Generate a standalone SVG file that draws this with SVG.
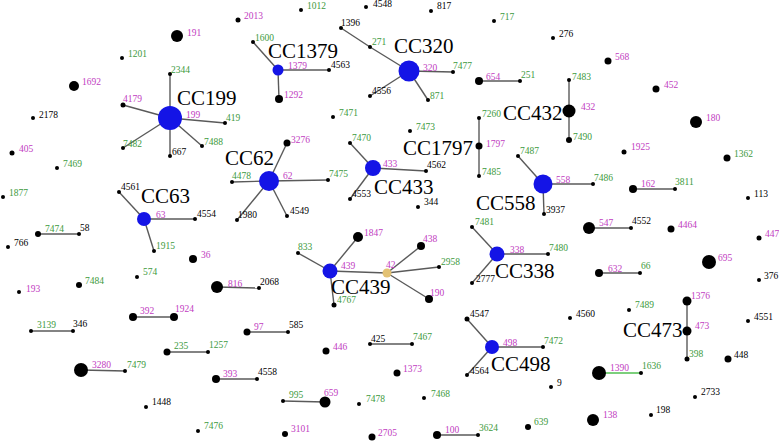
<svg xmlns="http://www.w3.org/2000/svg" width="779" height="442" viewBox="0 0 779 442">
<style>
text{font-family:"Liberation Serif","Times New Roman",serif;font-size:9.5px}
.cc{font-size:21px;fill:#000}
.m{fill:#c13cc1}.g{fill:#3d9a3d}.k{fill:#000}
.d{fill:#000}.b{fill:#1414e6}.y{fill:#e3c274}
.e line{stroke:#5a5a5a;stroke-width:1.4}
.e line.ge{stroke:#7ccf7c;stroke-width:2}
</style>
<rect width="779" height="442" fill="#fff"/>
<g class="e" id="connectors">
<line x1="170" y1="118" x2="170" y2="74"/><line x1="170" y1="118" x2="123" y2="105"/><line x1="170" y1="118" x2="225" y2="123"/><line x1="170" y1="118" x2="123" y2="148"/><line x1="170" y1="118" x2="170" y2="156"/><line x1="170" y1="118" x2="202" y2="146"/>
<line x1="278" y1="70" x2="253" y2="42"/><line x1="278" y1="70" x2="329" y2="70"/><line x1="278" y1="70" x2="279" y2="99"/>
<line x1="409" y1="71" x2="370" y2="47"/><line x1="341" y1="28" x2="370" y2="47"/><line x1="409" y1="71" x2="370" y2="96"/><line x1="409" y1="71" x2="453" y2="72"/><line x1="409" y1="71" x2="428" y2="100"/>
<line x1="479" y1="81" x2="520" y2="81"/>
<line x1="569" y1="80" x2="569" y2="140"/>
<line x1="479" y1="118" x2="479" y2="176"/>
<line x1="269" y1="181" x2="287" y2="143"/><line x1="269" y1="181" x2="232" y2="182"/><line x1="269" y1="181" x2="328" y2="180"/><line x1="269" y1="181" x2="237" y2="220"/><line x1="269" y1="181" x2="287" y2="216"/>
<line x1="373" y1="168" x2="350" y2="143"/><line x1="373" y1="168" x2="426" y2="171"/><line x1="373" y1="168" x2="350" y2="199"/>
<line x1="543" y1="184" x2="518" y2="156"/><line x1="543" y1="184" x2="593" y2="184"/><line x1="543" y1="184" x2="544" y2="214"/>
<line x1="144" y1="219" x2="119" y2="192"/><line x1="144" y1="219" x2="195" y2="219"/><line x1="144" y1="219" x2="154" y2="251"/>
<line x1="38" y1="234" x2="79" y2="234"/>
<line x1="633" y1="189" x2="675" y2="189"/>
<line x1="589" y1="228" x2="631" y2="228"/>
<line x1="599" y1="273" x2="640" y2="273"/>
<line x1="330" y1="271" x2="298" y2="253"/><line x1="330" y1="271" x2="358" y2="237"/><line x1="330" y1="271" x2="387" y2="273"/><line x1="330" y1="271" x2="334" y2="305"/>
<line x1="387" y1="273" x2="421" y2="246"/><line x1="387" y1="273" x2="439" y2="267"/><line x1="387" y1="273" x2="429" y2="299"/>
<line x1="497" y1="254" x2="472" y2="227"/><line x1="497" y1="254" x2="548" y2="254"/><line x1="497" y1="254" x2="472" y2="283"/>
<line x1="217" y1="287" x2="259" y2="288"/>
<line x1="133" y1="317" x2="174" y2="317"/>
<line x1="31" y1="331" x2="73" y2="331"/>
<line x1="167" y1="352" x2="208" y2="352"/>
<line x1="81" y1="370" x2="125" y2="371"/>
<line x1="247" y1="332" x2="288" y2="332"/>
<line x1="370" y1="344" x2="412" y2="344"/>
<line x1="216" y1="379" x2="257" y2="379"/>
<line x1="283" y1="401" x2="325" y2="402"/>
<line x1="437" y1="435" x2="478" y2="435"/>
<line x1="492" y1="347" x2="467" y2="319"/><line x1="492" y1="347" x2="543" y2="347"/><line x1="492" y1="347" x2="467" y2="375"/>
<line x1="687" y1="301" x2="687" y2="359"/>
<line class="ge" x1="599" y1="373" x2="641" y2="373"/>
</g>
<g id="nodes">
<g id="n191"><circle class="d" cx="177" cy="36" r="6"/><text class="m" x="187" y="36">191</text></g>
<g id="n1201"><circle class="d" cx="122" cy="58" r="2"/><text class="g" x="128" y="57">1201</text></g>
<g id="n1692"><circle class="d" cx="74" cy="86" r="5"/><text class="m" x="82" y="85">1692</text></g>
<g id="n2178"><circle class="d" cx="33" cy="118" r="2"/><text class="k" x="39" y="118">2178</text></g>
<g id="n4179"><circle class="d" cx="123" cy="105" r="2.5"/><text class="m" x="123" y="102">4179</text></g>
<g id="n2344"><circle class="d" cx="170" cy="74" r="2"/><text class="g" x="171" y="73">2344</text></g>
<g id="cc199"><circle class="b" cx="170" cy="118" r="12"/><text class="m" x="186" y="118">199</text><text class="cc" x="177" y="105">CC199</text></g>
<g id="n7482"><circle class="d" cx="123" cy="148" r="2"/><text class="g" x="123" y="147">7482</text></g>
<g id="n667"><circle class="d" cx="170" cy="156" r="2"/><text class="k" x="172" y="155">667</text></g>
<g id="n419"><circle class="d" cx="225" cy="123" r="2"/><text class="g" x="226" y="121">419</text></g>
<g id="n7488"><circle class="d" cx="202" cy="146" r="2"/><text class="g" x="204" y="145">7488</text></g>
<g id="n2013"><circle class="d" cx="238" cy="20" r="2.5"/><text class="m" x="244" y="19">2013</text></g>
<g id="n1012"><circle class="d" cx="301" cy="10" r="2"/><text class="g" x="307" y="9">1012</text></g>
<g id="n4548"><circle class="d" cx="366" cy="7" r="2"/><text class="k" x="373" y="7">4548</text></g>
<g id="n817"><circle class="d" cx="431" cy="11" r="2"/><text class="k" x="437" y="9">817</text></g>
<g id="n1396"><circle class="d" cx="341" cy="28" r="2"/><text class="k" x="341" y="26">1396</text></g>
<g id="n271"><circle class="d" cx="370" cy="47" r="2"/><text class="g" x="372" y="45">271</text></g>
<g id="cc1379"><circle class="b" cx="278" cy="70" r="5.5"/><text class="m" x="288" y="69">1379</text><text class="cc" x="268" y="58">CC1379</text></g>
<g id="n1600"><circle class="d" cx="253" cy="42" r="2"/><text class="g" x="255" y="41">1600</text></g>
<g id="n4563"><circle class="d" cx="329" cy="70" r="2"/><text class="k" x="331" y="68">4563</text></g>
<g id="n1292"><circle class="d" cx="279" cy="99" r="4"/><text class="m" x="284" y="98">1292</text></g>
<g id="n4556"><circle class="d" cx="370" cy="96" r="2"/><text class="k" x="372" y="94">4556</text></g>
<g id="n7471"><circle class="d" cx="333" cy="117" r="2"/><text class="g" x="339" y="116">7471</text></g>
<g id="cc320"><circle class="b" cx="409" cy="71" r="10.5"/><text class="m" x="423" y="71">320</text><text class="cc" x="394" y="53">CC320</text></g>
<g id="n7477"><circle class="d" cx="453" cy="72" r="2"/><text class="g" x="453" y="69">7477</text></g>
<g id="n871"><circle class="d" cx="428" cy="100" r="2"/><text class="g" x="430" y="99">871</text></g>
<g id="n717"><circle class="d" cx="494" cy="21" r="2"/><text class="g" x="500" y="20">717</text></g>
<g id="n276"><circle class="d" cx="553" cy="38" r="2"/><text class="k" x="559" y="37">276</text></g>
<g id="n654"><circle class="d" cx="479" cy="81" r="4"/><text class="m" x="486" y="80">654</text></g>
<g id="n251"><circle class="d" cx="520" cy="81" r="2"/><text class="g" x="521" y="78">251</text></g>
<g id="n7473"><circle class="d" cx="410" cy="131" r="2"/><text class="g" x="416" y="130">7473</text></g>
<g id="n7260"><circle class="d" cx="479" cy="118" r="2"/><text class="g" x="482" y="117">7260</text></g>
<g id="cc1797"><circle class="d" cx="479" cy="146" r="3.5"/><text class="m" x="486" y="147">1797</text><text class="cc" x="403" y="155">CC1797</text></g>
<g id="n7485"><circle class="d" cx="479" cy="176" r="2"/><text class="g" x="482" y="175">7485</text></g>
<g id="cc432"><circle class="d" cx="569" cy="111" r="6.5"/><text class="m" x="581" y="110">432</text><text class="cc" x="503" y="120">CC432</text></g>
<g id="n7483"><circle class="d" cx="569" cy="80" r="2"/><text class="g" x="572" y="80">7483</text></g>
<g id="n7490"><circle class="d" cx="569" cy="140" r="3"/><text class="g" x="573" y="140">7490</text></g>
<g id="n568"><circle class="d" cx="608" cy="61" r="3.5"/><text class="m" x="615" y="60">568</text></g>
<g id="n452"><circle class="d" cx="656" cy="89" r="3.5"/><text class="m" x="664" y="88">452</text></g>
<g id="n180"><circle class="d" cx="696" cy="122" r="6"/><text class="m" x="706" y="121">180</text></g>
<g id="n1925"><circle class="d" cx="624" cy="152" r="2.5"/><text class="m" x="631" y="150">1925</text></g>
<g id="n1362"><circle class="d" cx="727" cy="158" r="3.5"/><text class="g" x="734" y="157">1362</text></g>
<g id="n113"><circle class="d" cx="748" cy="198" r="2"/><text class="k" x="754" y="197">113</text></g>
<g id="n405"><circle class="d" cx="12" cy="153" r="2.5"/><text class="m" x="19" y="152">405</text></g>
<g id="n7469"><circle class="d" cx="57" cy="168" r="2"/><text class="g" x="63" y="167">7469</text></g>
<g id="n1877"><circle class="d" cx="3" cy="197" r="2"/><text class="g" x="9" y="196">1877</text></g>
<g id="cc63"><circle class="b" cx="144" cy="219" r="7"/><text class="m" x="156" y="218">63</text><text class="cc" x="141" y="203">CC63</text></g>
<g id="n4561"><circle class="d" cx="119" cy="192" r="2"/><text class="k" x="121" y="190">4561</text></g>
<g id="n4554"><circle class="d" cx="195" cy="219" r="2"/><text class="k" x="197" y="217">4554</text></g>
<g id="n1915"><circle class="d" cx="154" cy="251" r="2"/><text class="g" x="156" y="249">1915</text></g>
<g id="n7474"><circle class="d" cx="38" cy="234" r="3"/><text class="g" x="45" y="232">7474</text></g>
<g id="n58"><circle class="d" cx="79" cy="234" r="2"/><text class="k" x="80" y="231">58</text></g>
<g id="n766"><circle class="d" cx="8" cy="247" r="2"/><text class="k" x="14" y="246">766</text></g>
<g id="n574"><circle class="d" cx="137" cy="277" r="2"/><text class="g" x="143" y="275">574</text></g>
<g id="n36"><circle class="d" cx="193" cy="259" r="4"/><text class="m" x="201" y="258">36</text></g>
<g id="n7484"><circle class="d" cx="79" cy="285" r="3"/><text class="g" x="85" y="284">7484</text></g>
<g id="n193"><circle class="d" cx="19" cy="292" r="2"/><text class="m" x="26" y="292">193</text></g>
<g id="cc62"><circle class="b" cx="269" cy="181" r="10"/><text class="m" x="283" y="179">62</text><text class="cc" x="225" y="165">CC62</text></g>
<g id="n3276"><circle class="d" cx="287" cy="143" r="3.5"/><text class="m" x="291" y="143">3276</text></g>
<g id="n4478"><circle class="d" cx="232" cy="182" r="2"/><text class="g" x="232" y="179">4478</text></g>
<g id="n7475"><circle class="d" cx="328" cy="180" r="2"/><text class="g" x="329" y="177">7475</text></g>
<g id="n1980"><circle class="d" cx="237" cy="220" r="2"/><text class="k" x="238" y="218">1980</text></g>
<g id="n4549"><circle class="d" cx="287" cy="216" r="2"/><text class="k" x="290" y="214">4549</text></g>
<g id="cc433"><circle class="b" cx="373" cy="168" r="8"/><text class="m" x="383" y="167">433</text><text class="cc" x="374" y="194">CC433</text></g>
<g id="n7470"><circle class="d" cx="350" cy="143" r="2"/><text class="g" x="352" y="141">7470</text></g>
<g id="n4562"><circle class="d" cx="426" cy="171" r="2"/><text class="k" x="427" y="168">4562</text></g>
<g id="n4553"><circle class="d" cx="350" cy="199" r="2"/><text class="k" x="352" y="197">4553</text></g>
<g id="n344"><circle class="d" cx="418" cy="207" r="2"/><text class="k" x="424" y="205">344</text></g>
<g id="cc558"><circle class="b" cx="543" cy="184" r="9.5"/><text class="m" x="556" y="183">558</text><text class="cc" x="476" y="210">CC558</text></g>
<g id="n7487"><circle class="d" cx="518" cy="156" r="2"/><text class="g" x="520" y="154">7487</text></g>
<g id="n7486"><circle class="d" cx="593" cy="184" r="2"/><text class="g" x="594" y="181">7486</text></g>
<g id="n3937"><circle class="d" cx="544" cy="214" r="2"/><text class="k" x="546" y="213">3937</text></g>
<g id="n162"><circle class="d" cx="633" cy="189" r="4"/><text class="m" x="641" y="187">162</text></g>
<g id="n3811"><circle class="d" cx="675" cy="189" r="2"/><text class="g" x="675" y="185">3811</text></g>
<g id="n547"><circle class="d" cx="589" cy="228" r="6"/><text class="m" x="599" y="226">547</text></g>
<g id="n4552"><circle class="d" cx="631" cy="228" r="2"/><text class="k" x="632" y="224">4552</text></g>
<g id="n4464"><circle class="d" cx="671" cy="229" r="3.5"/><text class="m" x="678" y="228">4464</text></g>
<g id="n447"><circle class="d" cx="759" cy="238" r="2.5"/><text class="m" x="765" y="237">447</text></g>
<g id="n695"><circle class="d" cx="709" cy="262" r="7"/><text class="m" x="718" y="261">695</text></g>
<g id="n632"><circle class="d" cx="599" cy="273" r="4"/><text class="m" x="608" y="272">632</text></g>
<g id="n66"><circle class="d" cx="640" cy="273" r="2"/><text class="g" x="641" y="269">66</text></g>
<g id="n376"><circle class="d" cx="759" cy="280" r="2"/><text class="k" x="764" y="279">376</text></g>
<g id="cc439"><circle class="b" cx="330" cy="271" r="7.5"/><text class="m" x="341" y="269">439</text><text class="cc" x="331" y="294">CC439</text></g>
<g id="n833"><circle class="d" cx="298" cy="253" r="2"/><text class="g" x="298" y="250">833</text></g>
<g id="n1847"><circle class="d" cx="358" cy="237" r="5"/><text class="m" x="364" y="236">1847</text></g>
<g id="n42"><circle class="y" cx="387" cy="273" r="4.5"/><text class="m" x="386" y="268">42</text></g>
<g id="n438"><circle class="d" cx="421" cy="246" r="4"/><text class="m" x="423" y="242">438</text></g>
<g id="n2958"><circle class="d" cx="439" cy="267" r="2"/><text class="g" x="441" y="265">2958</text></g>
<g id="n190"><circle class="d" cx="429" cy="299" r="4"/><text class="m" x="430" y="296">190</text></g>
<g id="n4767"><circle class="d" cx="334" cy="305" r="2.5"/><text class="g" x="337" y="303">4767</text></g>
<g id="cc338"><circle class="b" cx="497" cy="254" r="7.5"/><text class="m" x="510" y="253">338</text><text class="cc" x="495" y="278">CC338</text></g>
<g id="n7481"><circle class="d" cx="472" cy="227" r="2"/><text class="g" x="475" y="225">7481</text></g>
<g id="n7480"><circle class="d" cx="548" cy="254" r="2"/><text class="g" x="549" y="251">7480</text></g>
<g id="n2777"><circle class="d" cx="472" cy="283" r="2"/><text class="k" x="476" y="282">2777</text></g>
<g id="n816"><circle class="d" cx="217" cy="287" r="6"/><text class="m" x="228" y="287">816</text></g>
<g id="n2068"><circle class="d" cx="259" cy="288" r="2"/><text class="k" x="260" y="285">2068</text></g>
<g id="n392"><circle class="d" cx="133" cy="317" r="4"/><text class="m" x="140" y="314">392</text></g>
<g id="n1924"><circle class="d" cx="174" cy="317" r="4"/><text class="m" x="175" y="312">1924</text></g>
<g id="n3139"><circle class="d" cx="31" cy="331" r="2"/><text class="g" x="37" y="328">3139</text></g>
<g id="n346"><circle class="d" cx="73" cy="331" r="2"/><text class="k" x="73" y="327">346</text></g>
<g id="n235"><circle class="d" cx="167" cy="352" r="3.5"/><text class="g" x="174" y="349">235</text></g>
<g id="n1257"><circle class="d" cx="208" cy="352" r="2"/><text class="g" x="209" y="348">1257</text></g>
<g id="n3280"><circle class="d" cx="81" cy="370" r="7"/><text class="m" x="92" y="368">3280</text></g>
<g id="n7479"><circle class="d" cx="125" cy="371" r="2"/><text class="g" x="127" y="368">7479</text></g>
<g id="n1448"><circle class="d" cx="146" cy="407" r="2"/><text class="k" x="152" y="405">1448</text></g>
<g id="n7476"><circle class="d" cx="198" cy="431" r="2"/><text class="g" x="204" y="429">7476</text></g>
<g id="n97"><circle class="d" cx="247" cy="332" r="3.5"/><text class="m" x="254" y="330">97</text></g>
<g id="n585"><circle class="d" cx="288" cy="332" r="2"/><text class="k" x="289" y="328">585</text></g>
<g id="n446"><circle class="d" cx="326" cy="351" r="3.5"/><text class="m" x="333" y="350">446</text></g>
<g id="n425"><circle class="d" cx="370" cy="344" r="2"/><text class="k" x="371" y="342">425</text></g>
<g id="n7467"><circle class="d" cx="412" cy="344" r="2"/><text class="g" x="413" y="340">7467</text></g>
<g id="n393"><circle class="d" cx="216" cy="379" r="4"/><text class="m" x="223" y="377">393</text></g>
<g id="n4558"><circle class="d" cx="257" cy="379" r="2"/><text class="k" x="258" y="375">4558</text></g>
<g id="n995"><circle class="d" cx="283" cy="401" r="2"/><text class="g" x="289" y="398">995</text></g>
<g id="n659"><circle class="d" cx="325" cy="402" r="5.5"/><text class="m" x="324" y="396">659</text></g>
<g id="n7478"><circle class="d" cx="359" cy="404" r="2"/><text class="g" x="366" y="402">7478</text></g>
<g id="n3101"><circle class="d" cx="285" cy="434" r="3"/><text class="m" x="291" y="432">3101</text></g>
<g id="n2705"><circle class="d" cx="372" cy="437" r="3.5"/><text class="m" x="378" y="436">2705</text></g>
<g id="n1373"><circle class="d" cx="397" cy="373" r="3.5"/><text class="m" x="403" y="372">1373</text></g>
<g id="n7468"><circle class="d" cx="424" cy="398" r="2"/><text class="g" x="431" y="397">7468</text></g>
<g id="cc498"><circle class="b" cx="492" cy="347" r="7"/><text class="m" x="503" y="346">498</text><text class="cc" x="491" y="371">CC498</text></g>
<g id="n4547"><circle class="d" cx="467" cy="319" r="2.5"/><text class="k" x="470" y="317">4547</text></g>
<g id="n7472"><circle class="d" cx="543" cy="347" r="2"/><text class="g" x="544" y="344">7472</text></g>
<g id="n4564"><circle class="d" cx="467" cy="375" r="2"/><text class="k" x="470" y="374">4564</text></g>
<g id="n9"><circle class="d" cx="551" cy="387" r="2"/><text class="k" x="557" y="386">9</text></g>
<g id="n639"><circle class="d" cx="528" cy="427" r="3"/><text class="g" x="534" y="425">639</text></g>
<g id="n100"><circle class="d" cx="437" cy="435" r="4"/><text class="m" x="445" y="433">100</text></g>
<g id="n3624"><circle class="d" cx="478" cy="435" r="2"/><text class="g" x="479" y="431">3624</text></g>
<g id="n4560"><circle class="d" cx="570" cy="318" r="2"/><text class="k" x="576" y="317">4560</text></g>
<g id="n7489"><circle class="d" cx="629" cy="310" r="2"/><text class="g" x="635" y="308">7489</text></g>
<g id="n1376"><circle class="d" cx="687" cy="301" r="4.5"/><text class="m" x="691" y="299">1376</text></g>
<g id="cc473"><circle class="d" cx="687" cy="331" r="4.5"/><text class="m" x="695" y="329">473</text><text class="cc" x="623" y="337">CC473</text></g>
<g id="n398"><circle class="d" cx="687" cy="359" r="2.5"/><text class="g" x="689" y="357">398</text></g>
<g id="n4551"><circle class="d" cx="748" cy="321" r="2"/><text class="k" x="754" y="320">4551</text></g>
<g id="n448"><circle class="d" cx="728" cy="359" r="3.5"/><text class="k" x="734" y="358">448</text></g>
<g id="n1390"><circle class="d" cx="599" cy="373" r="7"/><text class="m" x="610" y="371">1390</text></g>
<g id="n1636"><circle class="d" cx="641" cy="373" r="2"/><text class="g" x="642" y="369">1636</text></g>
<g id="n2733"><circle class="d" cx="695" cy="397" r="2"/><text class="k" x="701" y="395">2733</text></g>
<g id="n198"><circle class="d" cx="651" cy="415" r="2"/><text class="k" x="656" y="413">198</text></g>
<g id="n138"><circle class="d" cx="593" cy="420" r="6"/><text class="m" x="603" y="418">138</text></g>
</g>
</svg>
